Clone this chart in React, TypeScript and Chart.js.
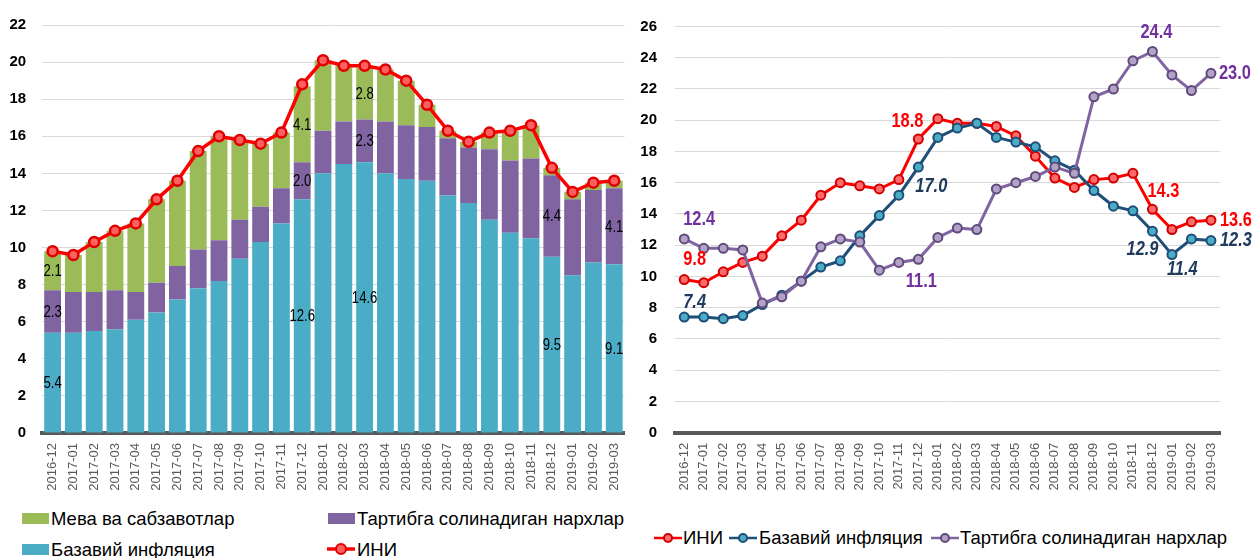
import React, { useEffect, useRef } from 'react';
import { Chart, registerables } from 'chart.js';

Chart.register(...registerables);

// ---------------- data ----------------
const months = [
  '2016-12', '2017-01', '2017-02', '2017-03', '2017-04', '2017-05', '2017-06',
  '2017-07', '2017-08', '2017-09', '2017-10', '2017-11', '2017-12', '2018-01',
  '2018-02', '2018-03', '2018-04', '2018-05', '2018-06', '2018-07', '2018-08',
  '2018-09', '2018-10', '2018-11', '2018-12', '2019-01', '2019-02', '2019-03',
];

// ИНИ (headline CPI, % y/y)
const cpi = [
  9.8, 9.6, 10.3, 10.9, 11.3, 12.6, 13.6, 15.2, 16.0, 15.8, 15.6, 16.2, 18.8, 20.1,
  19.8, 19.8, 19.6, 19.0, 17.7, 16.3, 15.7, 16.2, 16.3, 16.6, 14.3, 13.0, 13.5, 13.6,
];

// Left chart: contributions (p.p.)
const coreContribution = [
  5.4, 5.4, 5.5, 5.6, 6.1, 6.5, 7.2, 7.8, 8.2, 9.4, 10.3, 11.3, 12.6, 14.0,
  14.5, 14.6, 14.0, 13.7, 13.6, 12.8, 12.4, 11.5, 10.8, 10.5, 9.5, 8.5, 9.2, 9.1,
];
const regulatedContribution = [
  2.3, 2.2, 2.1, 2.1, 1.5, 1.6, 1.8, 2.1, 2.2, 2.1, 1.9, 1.9, 2.0, 2.3,
  2.3, 2.3, 2.8, 2.9, 2.9, 3.1, 3.0, 3.8, 3.9, 4.3, 4.4, 4.1, 3.9, 4.1,
];
const fruitVegContribution = [
  2.1, 2.0, 2.7, 3.2, 3.7, 4.5, 4.6, 5.3, 5.6, 4.3, 3.4, 3.0, 4.1, 3.8,
  3.0, 2.8, 2.8, 2.4, 1.2, 0.4, 0.3, 0.9, 1.6, 1.8, 0.4, 0.4, 0.4, 0.4,
];

// Right chart: annual rates (%)
const coreInflation = [
  7.4, 7.4, 7.3, 7.5, 8.2, 8.8, 9.7, 10.6, 11.0, 12.6, 13.9, 15.2, 17.0, 18.9,
  19.5, 19.8, 18.9, 18.6, 18.3, 17.4, 16.8, 15.5, 14.5, 14.2, 12.9, 11.4, 12.4, 12.3,
];
const regulatedPrices = [
  12.4, 11.8, 11.8, 11.7, 8.3, 8.7, 9.7, 11.9, 12.4, 12.2, 10.4, 10.9, 11.1, 12.5,
  13.1, 13.0, 15.6, 16.0, 16.4, 17.0, 16.6, 21.5, 22.0, 23.8, 24.4, 22.9, 21.9, 23.0,
];

const leftTicksMax = 22;
const rightTicksMax = 26;

// indices of categories with value labels
const leftLabelIndices = [0, 12, 15, 24, 27];

// ---------------- styles ----------------
const ARIAL = '"Liberation Sans", Arial, sans-serif';
const NARROW_SCALE = 0.82;

const C_GREEN = '#9BBB59';
const C_PURPLE = '#8064A2';
const C_TEAL = '#4BACC6';
const C_RED = '#FF0000';
const C_NAVY = '#1F4E79';

// label placements for right chart (style only)
const cpiLabelPlace = [
  { i: 0, dx: -1, dy: -20, align: 'left' },
  { i: 12, dx: 5, dy: -18, align: 'right' },
  { i: 24, dx: -5, dy: -18, align: 'left' },
  { i: 27, dx: 9, dy: 0, align: 'left' },
];
const coreLabelPlace = [
  { i: 0, dx: -1, dy: -15, align: 'left' },
  { i: 12, dx: -3, dy: 19, align: 'left' },
  { i: 24, dx: 6, dy: 18, align: 'right' },
  { i: 25, dx: -5, dy: 15, align: 'left' },
  { i: 27, dx: 9, dy: 0, align: 'left' },
];
const regLabelPlace = [
  { i: 0, dx: -1, dy: -19, align: 'left' },
  { i: 12, dx: 3, dy: 22, align: 'center' },
  { i: 24, dx: 4, dy: -19, align: 'center' },
  { i: 27, dx: 8, dy: 0, align: 'left' },
];

function drawNarrow(ctx: CanvasRenderingContext2D, text: string, x: number, y: number, align: CanvasTextAlign) {
  ctx.save();
  ctx.translate(x, y);
  ctx.scale(NARROW_SCALE, 1);
  ctx.textAlign = align;
  ctx.fillText(text, 0, 0);
  ctx.restore();
}

const leftLabelPlugin = {
  id: 'leftLabels',
  afterDatasetsDraw(chart: any) {
    const ctx = chart.ctx;
    ctx.save();
    ctx.font = `16px ${ARIAL}`;
    ctx.fillStyle = '#000';
    ctx.textBaseline = 'middle';
    [0, 1, 2].forEach((di) => {
      const meta = chart.getDatasetMeta(di);
      const ds = chart.data.datasets[di];
      leftLabelIndices.forEach((i) => {
        const v = ds.data[i] as number;
        if (v < 1) return;
        const el = meta.data[i];
        const p = el.getProps(['x', 'y', 'base'], true);
        drawNarrow(ctx, v.toFixed(1), p.x, (p.y + p.base) / 2 + 1, 'center');
      });
    });
    ctx.restore();
  },
};

const rightLabelPlugin = {
  id: 'rightLabels',
  afterDatasetsDraw(chart: any) {
    const ctx = chart.ctx;
    const groups = [
      { di: 0, place: cpiLabelPlace, color: '#FF0000', italic: false },
      { di: 1, place: coreLabelPlace, color: '#203A5C', italic: true },
      { di: 2, place: regLabelPlace, color: '#7030A0', italic: false },
    ];
    ctx.save();
    ctx.textBaseline = 'middle';
    groups.forEach((g) => {
      const meta = chart.getDatasetMeta(g.di);
      const ds = chart.data.datasets[g.di];
      ctx.font = `${g.italic ? 'italic ' : ''}bold 20px ${ARIAL}`;
      ctx.fillStyle = g.color;
      g.place.forEach((pl: any) => {
        const el = meta.data[pl.i];
        const v = ds.data[pl.i] as number;
        drawNarrow(ctx, v.toFixed(1), el.x + pl.dx, el.y + pl.dy, pl.align);
      });
    });
    ctx.restore();
  },
};

function xAxis(height: number) {
  return {
    grid: { display: false, drawTicks: false },
    border: { display: true, width: 4, color: '#595959' },
    ticks: {
      autoSkip: false,
      minRotation: 90,
      maxRotation: 90,
      padding: 10,
      color: '#595959',
      font: { family: ARIAL, size: 13 },
    },
    afterFit(scale: any) {
      scale.height = height;
    },
  };
}

function yAxis(max: number, width: number, padding: number) {
  return {
    min: 0,
    max,
    grid: { color: '#D9D9D9', lineWidth: 1, drawTicks: false },
    border: { display: false },
    ticks: {
      stepSize: 2,
      padding,
      color: '#000',
      font: { family: ARIAL, size: 15, weight: 'bold' as const },
    },
    afterFit(scale: any) {
      scale.width = width;
    },
  };
}

function LeftChart() {
  const ref = useRef<HTMLCanvasElement>(null);
  useEffect(() => {
    const chart = new Chart(ref.current!, {
      type: 'bar',
      data: {
        labels: months,
        datasets: [
          {
            label: 'Базавий инфляция',
            data: coreContribution,
            backgroundColor: C_TEAL,
            stack: 'parts',
            order: 2,
            barPercentage: 0.81,
            categoryPercentage: 1,
          },
          {
            label: 'Тартибга солинадиган нархлар',
            data: regulatedContribution,
            backgroundColor: C_PURPLE,
            stack: 'parts',
            order: 2,
            barPercentage: 0.81,
            categoryPercentage: 1,
          },
          {
            label: 'Мева ва сабзавотлар',
            data: fruitVegContribution,
            backgroundColor: C_GREEN,
            stack: 'parts',
            order: 2,
            barPercentage: 0.81,
            categoryPercentage: 1,
          },
          {
            type: 'line' as const,
            label: 'ИНИ',
            data: cpi,
            stack: 'cpi',
            order: 0,
            borderColor: C_RED,
            borderWidth: 3.5,
            pointRadius: 5,
            pointBorderWidth: 2.5,
            pointBackgroundColor: '#FF5F5F',
            pointBorderColor: '#E00000',
            tension: 0,
          } as any,
        ],
      },
      options: {
        animation: false,
        responsive: false,
        layout: { padding: { left: 0, right: 10.5, top: 22.3, bottom: 0 } },
        plugins: { legend: { display: false }, tooltip: { enabled: false } },
        scales: {
          x: { ...xAxis(67), stacked: true } as any,
          y: { ...yAxis(leftTicksMax, 42.2, 16), stacked: true } as any,
        },
      },
      plugins: [leftLabelPlugin],
    });
    return () => chart.destroy();
  }, []);
  return <canvas ref={ref} width={640} height={500} />;
}

function RightChart() {
  const ref = useRef<HTMLCanvasElement>(null);
  useEffect(() => {
    const common = {
      borderWidth: 3,
      pointRadius: 4.5,
      pointBorderWidth: 2,
      tension: 0,
    };
    const chart = new Chart(ref.current!, {
      type: 'line',
      data: {
        labels: months,
        datasets: [
          {
            label: 'ИНИ',
            data: cpi,
            borderColor: C_RED,
            pointBackgroundColor: '#FF6B6B',
            pointBorderColor: '#D00000',
            order: 2,
            ...common,
          },
          {
            label: 'Базавий инфляция',
            data: coreInflation,
            borderColor: C_NAVY,
            pointBackgroundColor: C_TEAL,
            pointBorderColor: C_NAVY,
            order: 1,
            ...common,
          },
          {
            label: 'Тартибга солинадиган нархлар',
            data: regulatedPrices,
            borderColor: C_PURPLE,
            pointBackgroundColor: '#B3A2C7',
            pointBorderColor: '#604A7B',
            order: 0,
            ...common,
          },
        ],
      },
      options: {
        animation: false,
        responsive: false,
        layout: { padding: { left: 0, right: 33.3, top: 21.7, bottom: 0 } },
        plugins: { legend: { display: false }, tooltip: { enabled: false } },
        scales: {
          x: { ...xAxis(67.3), offset: true } as any,
          y: yAxis(rightTicksMax, 34.5, 17.5) as any,
        },
      },
      plugins: [rightLabelPlugin],
    });
    return () => chart.destroy();
  }, []);
  return <canvas ref={ref} width={614} height={500} />;
}

function BoxKey({ left, top, color }: { left: number; top: number; color: string }) {
  return (
    <div style={{ position: 'absolute', left, top, width: 27, height: 11, background: color }} />
  );
}

function LineKey({ left, top, line, fill, stroke, r, lw }: any) {
  return (
    <svg style={{ position: 'absolute', left, top }} width={28} height={16}>
      <line x1={0} y1={8} x2={28} y2={8} stroke={line} strokeWidth={lw} />
      <circle cx={14} cy={8} r={r} fill={fill} stroke={stroke} strokeWidth={2} />
    </svg>
  );
}

const legendText: React.CSSProperties = {
  position: 'absolute',
  fontFamily: ARIAL,
  fontSize: 18.5,
  lineHeight: '20px',
  color: '#000',
  whiteSpace: 'nowrap',
};

export default function App() {
  return (
    <div
      style={{
        position: 'fixed',
        left: 0,
        top: 0,
        width: 1254,
        height: 558,
        background: '#fff',
        overflow: 'hidden',
      }}
    >
      <div style={{ position: 'absolute', left: 0, top: 0 }}>
        <LeftChart />
      </div>
      <div style={{ position: 'absolute', left: 640, top: 0 }}>
        <RightChart />
      </div>

      {/* left legend */}
      <BoxKey left={22} top={513} color={C_GREEN} />
      <div style={{ ...legendText, left: 51, top: 509 }}>Мева ва сабзавотлар</div>
      <BoxKey left={328} top={513} color={C_PURPLE} />
      <div style={{ ...legendText, left: 357, top: 509 }}>Тартибга солинадиган нархлар</div>
      <BoxKey left={22} top={544} color={C_TEAL} />
      <div style={{ ...legendText, left: 51, top: 540 }}>Базавий инфляция</div>
      <LineKey left={327} top={541} line={C_RED} fill="#FF5F5F" stroke="#E00000" r={5} lw={3.5} />
      <div style={{ ...legendText, left: 357, top: 540 }}>ИНИ</div>

      {/* right legend */}
      <LineKey left={654} top={530} line={C_RED} fill="#FF6B6B" stroke="#D00000" r={4} lw={2.5} />
      <div style={{ ...legendText, left: 683, top: 528 }}>ИНИ</div>
      <LineKey left={729} top={530} line={C_NAVY} fill={C_TEAL} stroke={C_NAVY} r={4} lw={2.5} />
      <div style={{ ...legendText, left: 759, top: 528 }}>Базавий инфляция</div>
      <LineKey left={931} top={530} line={C_PURPLE} fill="#B3A2C7" stroke="#604A7B" r={4} lw={2.5} />
      <div style={{ ...legendText, left: 960, top: 528 }}>Тартибга солинадиган нархлар</div>
    </div>
  );
}
